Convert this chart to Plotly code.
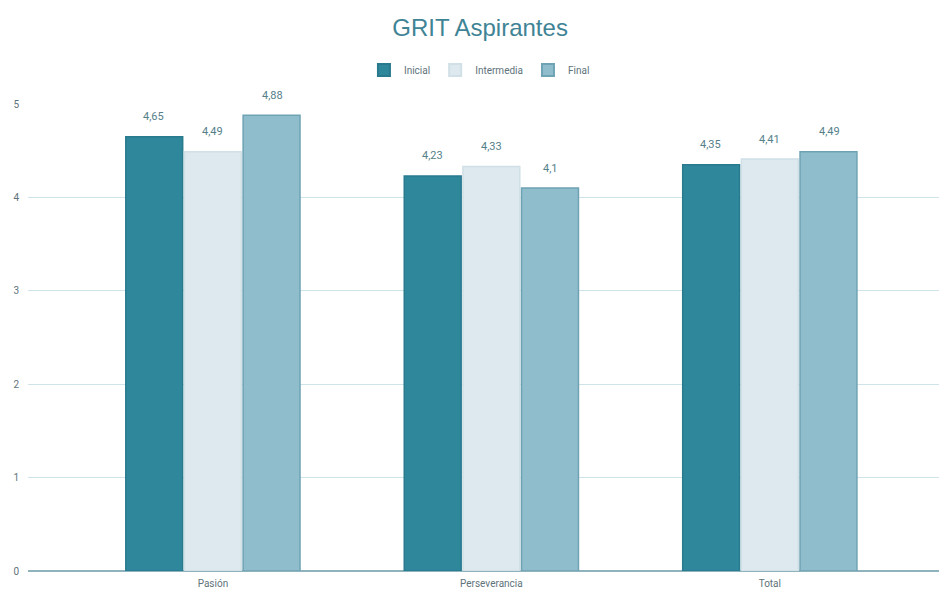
import plotly.graph_objects as go

categories = ["Pasión", "Perseverancia", "Total"]
inicial = [4.65, 4.23, 4.35]
intermedia = [4.49, 4.33, 4.41]
final = [4.88, 4.10, 4.49]
series_names = ["Inicial", "Intermedia", "Final"]
y_ticks = [0, 1, 2, 3, 4, 5]

colors = ["#2f879c", "#dde9ee", "#8fbdcc"]
line_colors = ["#2a7a8e", "#d0e0e6", "#6ea3b4"]

fig = go.Figure()
xs = list(range(len(categories)))
for name, vals, c, lc in zip(series_names, [inicial, intermedia, final], colors, line_colors):
    fig.add_trace(go.Bar(
        name=name, x=xs, y=vals,
        marker=dict(color=c, line=dict(color=lc, width=1.5)),
    ))

offsets = [-0.213, 0.0, 0.213]
for off, vals in zip(offsets, [inicial, intermedia, final]):
    for xi, v in zip(xs, vals):
        fig.add_annotation(
            x=xi + off, y=v, xref="x", yref="y",
            text=("%g" % v).replace(".", ","),
            showarrow=False, yshift=20,
            font=dict(family="Roboto, Arial", size=11, color="#557f8a"),
        )

fig.update_layout(
    width=947, height=581,
    paper_bgcolor="white", plot_bgcolor="white",
    separators=",.",
    title=dict(text="GRIT Aspirantes", x=0.4985, xanchor="center", y=0.967, yanchor="middle",
               font=dict(family="Liberation Sans, Arial", size=24, color="#3f8495")),
    legend=dict(orientation="h", x=0.487, xanchor="center", y=1.073, yanchor="middle",
                font=dict(family="Roboto, Arial", size=10, color="#60737a"),
                itemsizing="constant", traceorder="normal"),
    margin=dict(l=20, r=0, t=96, b=18),
    barmode="group", bargap=0.368, bargroupgap=0.03,
    showlegend=True,
)
fig.update_xaxes(
    tickmode="array", tickvals=xs, ticktext=categories,
    range=[-0.664, 2.665], showgrid=False, ticks="",
    tickfont=dict(family="Roboto, Arial", size=10, color="#60737a"),
    showline=False, zeroline=False, ticklabelstandoff=5,
)
fig.update_yaxes(
    range=[0, 5], tickvals=y_ticks, showgrid=True, gridcolor="#cfe4ea", gridwidth=1,
    zeroline=True, zerolinecolor="#8fb3bd", zerolinewidth=1.5,
    tickfont=dict(family="Roboto, Arial", size=10, color="#60737a"),
    ticklabelstandoff=8,
)
fig.write_html("out.html")
